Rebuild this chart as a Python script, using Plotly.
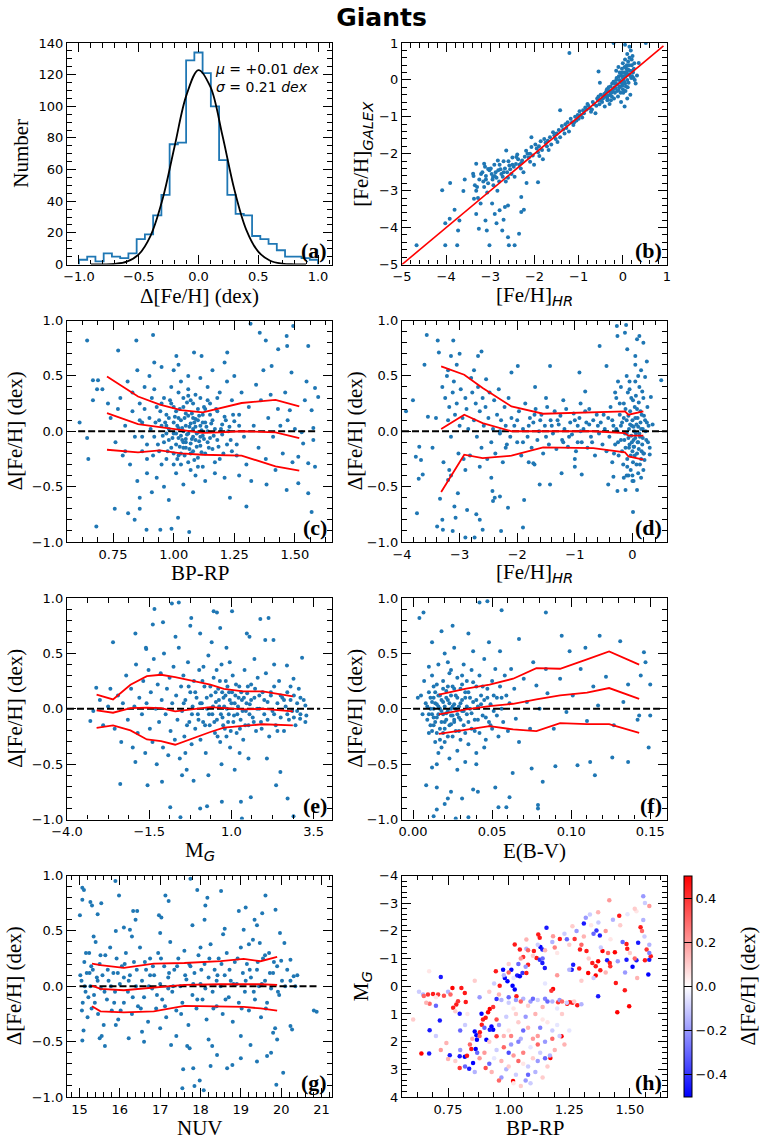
import numpy as np
import plotly.graph_objects as go
from plotly.subplots import make_subplots

# ── (a) histogram of Δ[Fe/H] ───────────────────────────────
hist_counts = [3, 5, 2, 7, 5, 4, 7, 16, 19, 31, 44, 76, 77, 129, 134,
               121, 100, 66, 44, 32, 31, 18, 16, 13, 9, 5, 5, 4, 3]
gauss_x = [-0.9, -0.8, -0.7, -0.6, -0.5, -0.4, -0.3, -0.2, -0.1, 0.0,
           0.1, 0.2, 0.3, 0.4, 0.5, 0.6, 0.7, 0.8, 0.9]
gauss_y = [0.0, 0.1, 0.4, 1.8, 6.4, 18.3, 41.4, 74.6, 107.2, 122.9,
           112.2, 81.7, 47.4, 21.9, 8.1, 2.4, 0.6, 0.1, 0.0]
fit_mu = 0.01
fit_sigma = 0.21

# ── (b) [Fe/H]_HR vs [Fe/H]_GALEX ──────────────────────────
one_to_one = [-5.0, 0.92]
b_pts = [
    (-4.67, -4.48), (-4.09, -2.99), (-3.91, -2.79), (-4.02, -4.48), (-3.75, -4.48), (-3.61, -3.01),
    (-3.58, -2.70), (-3.81, -3.52), (-3.70, -3.81), (-3.73, -4.08), (-4.02, -3.88), (-3.92, -3.76),
    (-3.39, -2.54), (-3.37, -3.22), (-3.32, -3.63), (-3.26, -4.03), (-3.11, -3.81), (-3.08, -4.08),
    (-3.02, -4.48), (-2.96, -3.35), (-2.90, -3.63), (-2.86, -3.88), (-2.79, -3.53), (-2.73, -4.08),
    (-2.70, -3.79), (-2.67, -3.44), (-2.60, -3.40), (-2.58, -4.48), (-2.45, -4.48), (-2.60, -4.26),
    (-2.35, -4.17), (-2.30, -3.58), (-2.24, -3.52), (-2.30, -3.17), (-1.92, -2.77), (-3.32, -2.27),
    (-3.14, -2.27), (-3.05, -2.41), (-2.94, -2.63), (-2.83, -2.18), (-2.64, -1.91), (-2.41, -2.09),
    (-2.18, -2.79), (-2.07, -1.55), (-1.42, -0.82), (-1.21, 0.73), (-0.55, 0.23), (-0.52, -0.08),
    (-0.21, 1.0), (0.04, -0.72), (0.32, 0.12), (0.36, 0.46), (0.52, 1.0),
    (-3.38, -2.6), (-3.35, -2.85), (-3.32, -3.0), (-3.28, -3.2), (-3.25, -2.7), (-3.22, -3.35),
    (-3.21, -2.55), (-3.18, -2.5), (-3.16, -2.75), (-3.14, -2.9), (-3.12, -2.35), (-3.10, -2.6),
    (-3.07, -3.05), (-3.05, -2.8), (-3.02, -2.45), (-2.99, -2.4), (-2.97, -2.55), (-2.95, -2.7),
    (-2.93, -2.85), (-2.91, -2.3), (-2.88, -2.5), (-2.86, -2.65), (-2.84, -3.0), (-2.82, -2.45),
    (-2.79, -2.3), (-2.77, -2.42), (-2.75, -2.55), (-2.72, -2.62), (-2.70, -2.2), (-2.67, -2.4),
    (-2.65, -2.75), (-2.62, -2.5), (-2.59, -2.2), (-2.57, -2.32), (-2.55, -2.42), (-2.52, -2.55),
    (-2.50, -2.1), (-2.47, -2.35), (-2.45, -2.62), (-2.42, -2.28), (-2.39, -2.02), (-2.37, -2.15),
    (-2.34, -2.3), (-2.31, -2.4), (-2.28, -2.18), (-2.25, -2.5), (-2.22, -2.08), (-2.19, -1.92),
    (-2.16, -2.0), (-2.13, -2.1), (-2.10, -2.22), (-2.07, -1.82), (-2.04, -2.05), (-2.01, -2.3),
    (-1.98, -1.75), (-1.95, -1.86), (-1.92, -1.96), (-1.89, -2.06), (-1.86, -1.66), (-1.83, -1.9),
    (-1.81, -2.15), (-1.78, -1.6), (-1.75, -1.7), (-1.72, -1.8), (-1.68, -1.9), (-1.65, -1.55),
    (-1.62, -1.75), (-1.58, -1.42), (-1.55, -1.5), (-1.52, -1.6), (-1.48, -1.68), (-1.45, -1.36),
    (-1.42, -1.55), (-1.38, -1.25), (-1.35, -1.34), (-1.32, -1.45), (-1.28, -1.3), (-1.25, -1.15),
    (-1.22, -1.4), (-1.18, -1.05), (-1.15, -1.15), (-1.12, -1.22), (-1.08, -1.0), (-1.05, -1.1),
    (-1.02, -0.95), (-0.98, -0.85), (-0.95, -0.95), (-0.92, -1.02), (-0.88, -0.9), (-0.85, -0.75),
    (-0.82, -0.8), (-0.78, -0.7), (-0.75, -0.76), (-0.72, -0.86), (-0.68, -0.6), (-0.65, -0.66),
    (-0.62, -0.9), (-0.58, -0.5), (-0.56, -0.56), (-0.53, -0.66), (-0.50, -0.4), (-0.47, -0.6),
    (-0.44, -0.45), (-0.41, -0.72), (-0.39, -0.35), (-0.37, -0.3), (-0.35, -0.5), (-0.32, -0.2),
    (-0.29, -0.4), (-0.27, -0.55), (-0.24, -0.1), (-0.22, -0.25), (-0.19, -0.2), (-0.17, -0.1),
    (-0.15, 0.0), (-0.13, -0.3), (-0.11, -0.45), (-0.09, 0.1), (-0.07, 0.2), (-0.05, -0.05),
    (-0.04, -0.6), (-0.02, 0.3), (-0.01, -0.15), (0.01, 0.0), (0.02, 0.1), (0.03, 0.2),
    (0.05, -0.1), (0.06, -0.3), (0.08, 0.3), (0.09, 0.4), (0.11, -0.2), (0.12, 0.5),
    (0.14, 0.15), (0.15, 0.6), (0.17, -0.4), (0.18, 0.8), (0.19, 0.05), (0.21, 0.1),
    (0.23, 0.2), (0.25, 0.3), (0.27, 0.0), (0.29, -0.1), (-0.10, 0.35), (0.00, 0.45),
    (0.05, 0.55), (0.10, 0.7), (-0.15, 0.25), (0.20, 0.4), (-0.05, -0.35), (0.10, -0.5),
    (0.00, -0.25), (-0.20, -0.5), (0.15, 0.9), (0.05, 0.95), (0.22, 0.65), (-0.30, -0.65),
    (0.08, 0.15), (-0.08, -0.2),
]
b_core_pts = [
    (-0.45, -0.5), (-0.42, -0.38), (-0.38, -0.45), (-0.36, -0.25), (-0.33, -0.42), (-0.31, -0.3),
    (-0.28, -0.18), (-0.26, -0.35), (-0.23, -0.3), (-0.21, -0.05), (-0.18, -0.35), (-0.16, -0.22),
    (-0.14, 0.05), (-0.12, -0.12), (-0.10, -0.28), (-0.08, 0.0), (-0.06, -0.18), (-0.04, 0.12),
    (-0.03, -0.08), (-0.01, 0.2), (0.0, 0.05), (0.01, -0.35), (0.03, -0.05), (0.04, 0.35),
    (0.06, 0.1), (0.07, -0.18), (0.09, 0.22), (0.10, 0.0), (0.12, 0.28), (0.13, -0.08),
    (0.14, 0.4), (0.16, 0.25), (0.18, 0.1), (0.20, 0.55), (0.22, 0.25), (0.24, 0.05),
    (0.26, 0.45), (-0.25, -0.45), (-0.35, -0.55), (-0.5, -0.55), (-0.55, -0.45), (-0.6, -0.7),
    (-0.7, -0.8), (-0.8, -0.65), (-0.9, -0.82), (-1.0, -1.05), (-1.1, -1.15), (-1.3, -1.2),
    (-1.5, -1.45), (-1.7, -1.65), (-1.9, -1.8), (-2.1, -2.0), (-2.3, -2.25), (-2.5, -2.3),
    (-2.7, -2.5), (-2.9, -2.6), (-3.1, -2.7), (-3.3, -2.9), (-2.6, -2.65), (-2.8, -2.75),
]

# ── (c) BP-RP vs Δ[Fe/H] ───────────────────────────────────
c_pts = [
    (0.643, 0.82), (0.612, 0.08), (0.643, -0.06), (0.648, -0.25), (0.681, -0.86), (0.667, 0.46),
    (0.688, 0.46), (0.684, 0.38), (0.667, 0.28), (0.706, 0.38), (0.729, 0.25), (0.771, 0.73),
    (0.757, -0.70), (0.812, -0.74), (0.839, -0.80), (0.846, 0.82), (0.860, -0.70), (0.888, -0.89),
    (0.915, 0.87), (0.945, -0.89), (0.991, -0.88), (1.018, -0.78), (1.064, -0.91), (1.011, 0.68),
    (1.084, 0.71), (1.115, 0.68), (1.221, 0.71), (1.232, -0.60), (1.300, -0.68), (1.317, 0.97),
    (1.355, 0.89), (1.380, 0.82), (1.431, 0.74), (1.466, 0.86), (1.493, 0.95), (1.468, 0.77),
    (1.486, 0.53), (1.404, 0.59), (1.383, -0.48), (1.466, -0.53), (1.514, -0.47), (1.555, -0.56),
    (1.569, -0.73), (1.583, 0.39), (1.569, 0.19), (1.541, 0.28), (1.576, -0.08), (1.534, -0.11),
    (1.583, -0.32), (1.555, -0.29), (1.548, 0.45), (1.555, 0.77), (1.528, -0.01), (1.514, -0.23),
    (1.479, 0.19), (1.576, 0.03), (1.596, 0.31),
    (0.90, 0.12), (0.92, -0.05), (0.93, 0.22), (0.94, -0.18), (0.95, 0.05), (0.96, 0.30),
    (0.96, -0.10), (0.97, 0.15), (0.97, -0.25), (0.98, 0.02), (0.98, -0.08), (0.99, 0.25),
    (0.99, -0.15), (1.00, 0.08), (1.00, -0.02), (1.00, -0.30), (1.01, 0.18), (1.01, -0.12),
    (1.02, 0.03), (1.02, -0.06), (1.02, 0.35), (1.03, -0.20), (1.03, 0.10), (1.03, -0.04),
    (1.04, 0.00), (1.04, -0.10), (1.04, 0.22), (1.05, -0.15), (1.05, 0.05), (1.05, -0.07),
    (1.06, 0.14), (1.06, -0.02), (1.06, -0.28), (1.07, 0.07), (1.07, -0.11), (1.07, 0.28),
    (1.08, -0.05), (1.08, 0.02), (1.08, -0.18), (1.09, 0.11), (1.09, -0.08), (1.10, 0.20),
    (1.10, -0.01), (1.10, -0.24), (1.11, 0.05), (1.11, -0.13), (1.12, 0.15), (1.12, -0.04),
    (1.13, -0.20), (1.13, 0.08), (1.14, 0.00), (1.14, -0.10), (1.15, 0.25), (1.15, -0.06),
    (1.16, 0.10), (1.16, -0.16), (1.17, 0.02), (1.18, -0.08), (1.18, 0.18), (1.19, -0.25),
    (1.20, 0.06), (1.20, -0.03), (1.21, 0.13), (1.22, -0.12), (1.23, 0.04), (1.24, -0.18),
    (1.25, 0.09), (0.89, -0.12), (0.91, 0.30), (0.95, -0.30), (0.99, 0.40), (1.03, 0.45),
    (1.06, 0.38), (1.09, 0.33), (1.12, -0.32), (1.01, -0.38), (0.98, 0.12), (1.05, 0.16),
    (1.08, 0.25), (1.11, 0.30), (1.02, -0.22), (1.07, -0.35), (0.94, 0.10), (0.97, -0.02),
    (1.13, 0.20), (1.17, -0.28), (1.00, 0.22), (1.04, 0.30), (1.10, 0.10), (1.15, 0.15),
    (0.74, 0.12), (0.76, -0.10), (0.78, 0.30), (0.79, -0.22), (0.80, 0.05), (0.81, 0.45),
    (0.82, -0.30), (0.83, 0.18), (0.84, -0.05), (0.85, 0.55), (0.85, -0.45), (0.86, 0.25),
    (0.87, -0.18), (0.87, 0.08), (0.88, 0.40), (0.89, -0.38), (0.90, 0.50), (0.91, -0.55),
    (0.92, 0.38), (0.93, -0.42), (0.95, 0.58), (0.96, -0.50), (0.98, -0.62), (1.00, 0.55),
    (1.02, 0.60), (1.04, -0.48), (1.06, 0.50), (1.08, -0.55), (1.09, -0.40), (1.11, 0.48),
    (1.13, -0.45), (1.14, 0.40), (1.16, 0.55), (1.17, -0.38), (1.19, 0.35), (1.21, -0.42),
    (1.22, 0.45), (1.24, 0.28), (1.26, -0.22), (1.27, 0.15), (1.28, 0.35), (1.29, -0.05),
    (1.30, -0.30), (1.31, 0.22), (1.33, 0.05), (1.34, 0.42), (1.35, -0.15), (1.36, 0.28),
    (1.38, -0.25), (1.39, 0.12), (1.40, 0.33), (1.41, -0.05), (1.42, -0.35), (1.43, 0.20),
    (1.44, 0.05), (1.45, -0.20), (1.46, 0.35), (1.47, 0.10), (1.49, -0.28), (1.50, 0.02),
    (1.27, -0.40), (1.32, -0.45), (1.37, 0.55), (1.25, 0.50), (0.80, -0.18), (0.77, 0.20),
    (0.83, 0.35), (0.86, -0.60), (0.92, 0.62), (1.21, 0.62),
]
c_core_pts = [
    (0.905, 0.02), (0.915, -0.22), (0.925, 0.08), (0.935, -0.12), (0.945, 0.18), (0.955, -0.04),
    (0.965, 0.08), (0.975, -0.18), (0.985, 0.28), (0.995, -0.06), (1.005, 0.13), (1.015, -0.25),
    (1.015, 0.05), (1.025, -0.14), (1.025, 0.20), (1.035, -0.08), (1.035, 0.03), (1.045, 0.12),
    (1.045, -0.22), (1.055, -0.03), (1.055, 0.26), (1.065, -0.16), (1.065, 0.04), (1.075, -0.07),
    (1.075, 0.16), (1.085, -0.26), (1.085, 0.08), (1.095, -0.02), (1.095, -0.14), (1.105, 0.14),
    (1.105, -0.09), (1.115, 0.01), (1.115, -0.19), (1.125, 0.22), (1.125, -0.07), (1.135, 0.04),
    (1.145, -0.15), (1.155, 0.07), (1.165, -0.04), (1.175, 0.20), (1.185, -0.14), (1.195, 0.02),
    (1.205, -0.20), (1.215, 0.10), (1.225, 0.00), (1.235, -0.08), (1.245, 0.15), (1.26, -0.12),
    (1.27, 0.05), (0.88, 0.20), (0.87, -0.05), (0.86, 0.10), (0.89, -0.25), (1.03, -0.30),
    (1.06, 0.32), (1.10, -0.32), (1.00, -0.20), (0.95, 0.25), (1.14, 0.28), (1.18, 0.30),
    (1.02, 0.12), (1.08, 0.12), (1.04, -0.15), (1.07, -0.20), (1.12, 0.08), (0.97, 0.05),
    (1.01, -0.02), (1.09, 0.04), (1.05, -0.10), (1.11, -0.05),
]
c_bins = [0.725, 0.853, 0.943, 1.03, 1.12, 1.19, 1.28, 1.42, 1.518]
c_hi = [0.495, 0.314, 0.24, 0.19, 0.17, 0.21, 0.255, 0.284, 0.224]
c_mid = [0.164, 0.065, 0.038, 0.01, -0.015, -0.01, 0.0, -0.01, -0.062]
c_lo = [-0.167, -0.19, -0.173, -0.2, -0.212, -0.218, -0.22, -0.317, -0.356]

# ── (d) [Fe/H]_HR vs Δ[Fe/H] ───────────────────────────────
d_pts = [
    (-3.93, 0.18), (-3.81, 0.28), (-3.76, -0.23), (-3.70, -0.14), (-3.67, -0.26), (-3.71, -0.43),
    (-3.64, -0.39), (-3.74, -0.74), (-3.57, 0.87), (-3.61, 0.60), (-3.55, 0.13), (-3.47, -0.15),
    (-3.41, 0.12), (-3.38, 0.82), (-3.36, 0.71), (-3.34, -0.61), (-3.30, -0.80), (-3.29, -0.89),
    (-3.39, -0.86), (-3.20, -0.44), (-3.18, -0.35), (-3.11, 0.82), (-3.15, 0.68), (-3.09, -0.68),
    (-3.07, -0.78), (-3.03, -0.56), (-3.00, 0.70), (-3.12, -0.90), (-2.90, -0.96), (-2.87, -0.71),
    (-2.74, -0.96), (-2.71, -0.75), (-2.65, -0.80), (-2.62, 0.72), (-2.68, 0.68), (-2.60, -0.89),
    (-2.54, 0.47), (-2.43, -0.54), (-2.42, -0.63), (-2.39, -0.60), (-2.30, -0.59), (-2.28, -0.90),
    (-2.16, -0.69), (-2.10, 0.53), (-1.99, 0.59), (-1.88, -0.62), (-1.90, -0.87), (-1.69, 0.40),
    (-1.43, 0.59), (-1.43, -0.48), (-0.92, 0.53), (-0.82, 0.36), (-0.57, 0.77), (-0.45, 0.59),
    (-0.27, 0.95), (-0.11, 0.96), (-0.13, 0.89), (-0.26, 0.86), (-0.09, 0.74), (0.05, 0.68),
    (0.08, 0.83), (0.12, 0.86), (0.19, 0.80), (0.25, 0.63), (0.22, 0.49), (0.50, 0.46),
    (0.32, 0.31), (0.35, 0.06), (0.30, -0.21), (-0.26, -0.54), (-0.12, -0.53), (0.08, -0.53),
    (0.01, -0.73), (0.02, -0.45), (-0.07, -0.40), (0.19, -0.35), (0.19, -0.20), (0.02, -0.14),
    (-0.42, -0.48), (-0.33, -0.41), (-0.88, -0.39), (-1.00, -0.32), (-1.61, -0.48), (-1.72, -0.29),
    (-1.23, -0.38),
    (-3.30, 0.40), (-3.25, 0.30), (-3.22, 0.50), (-3.20, 0.10), (-3.18, 0.22), (-3.15, -0.05),
    (-3.12, 0.35), (-3.10, 0.45), (-3.08, 0.15), (-3.05, 0.25), (-3.02, -0.20), (-3.00, 0.05),
    (-2.98, 0.38), (-2.95, 0.12), (-2.93, -0.25), (-2.90, 0.30), (-2.88, 0.20), (-2.85, 0.02),
    (-2.82, -0.22), (-2.80, 0.48), (-2.78, 0.35), (-2.75, 0.10), (-2.72, 0.25), (-2.70, -0.05),
    (-2.68, 0.40), (-2.65, 0.18), (-2.62, -0.15), (-2.60, 0.30), (-2.58, 0.05), (-2.55, 0.22),
    (-2.52, -0.25), (-2.50, 0.12), (-2.48, 0.35), (-2.45, -0.10), (-2.42, 0.02), (-2.40, 0.28),
    (-2.38, -0.20), (-2.35, 0.15), (-2.32, 0.38), (-2.30, -0.02), (-2.28, 0.10), (-2.25, -0.28),
    (-2.22, 0.22), (-2.20, 0.05), (-2.18, -0.12), (-2.15, 0.30), (-2.12, -0.05), (-2.10, 0.12),
    (-3.28, -0.28), (-3.15, -0.40), (-2.90, -0.35), (-2.65, -0.32), (-2.45, -0.42), (-2.75, 0.55),
    (-3.05, 0.60), (-3.20, 0.55),
    (-2.05, 0.05), (-2.00, -0.10), (-1.97, 0.18), (-1.93, -0.22), (-1.90, 0.02), (-1.86, 0.25),
    (-1.82, -0.05), (-1.78, 0.12), (-1.75, -0.15), (-1.72, 0.08), (-1.68, 0.20), (-1.65, -0.08),
    (-1.62, 0.00), (-1.58, 0.15), (-1.55, -0.20), (-1.52, 0.05), (-1.48, 0.22), (-1.45, -0.12),
    (-1.42, 0.10), (-1.38, -0.02), (-1.35, 0.18), (-1.32, -0.16), (-1.28, 0.06), (-1.25, 0.14),
    (-1.22, -0.08), (-1.18, 0.02), (-1.15, 0.20), (-1.12, -0.14), (-1.08, 0.08), (-1.05, -0.03),
    (-1.02, 0.16), (-0.98, -0.18), (-0.95, 0.05), (-0.92, 0.12), (-0.88, -0.10), (-0.85, 0.02),
    (-0.82, 0.18), (-0.78, -0.15), (-0.75, 0.06), (-0.72, -0.05), (-0.68, 0.10), (-0.65, -0.22),
    (-0.62, 0.15), (-0.58, -0.02), (-0.55, 0.08), (-0.52, -0.12), (-1.80, -0.28), (-1.50, 0.30),
    (-1.20, 0.28), (-0.90, 0.25), (-1.70, -0.30), (-1.00, -0.25),
    (-0.48, 0.02), (-0.45, -0.18), (-0.42, 0.12), (-0.40, -0.05), (-0.38, 0.22), (-0.35, -0.28),
    (-0.33, 0.05), (-0.30, -0.12), (-0.28, 0.30), (-0.26, 0.00), (-0.24, -0.22), (-0.22, 0.15),
    (-0.20, -0.08), (-0.18, 0.08), (-0.16, -0.30), (-0.15, 0.25), (-0.13, -0.02), (-0.12, -0.15),
    (-0.10, 0.10), (-0.09, -0.25), (-0.08, 0.35), (-0.07, -0.06), (-0.06, 0.02), (-0.05, -0.12),
    (-0.04, 0.18), (-0.03, -0.35), (-0.02, -0.04), (-0.01, 0.05), (0.00, -0.18), (0.01, 0.28),
    (0.02, -0.08), (0.03, 0.00), (0.04, -0.22), (0.05, 0.12), (0.06, -0.02), (0.07, -0.30),
    (0.08, 0.20), (0.09, -0.10), (0.10, 0.04), (0.11, -0.16), (0.12, 0.40), (0.13, -0.05),
    (0.14, 0.08), (0.15, -0.25), (0.16, 0.15), (0.17, -0.12), (0.18, 0.02), (0.19, 0.30),
    (0.20, -0.20), (0.22, 0.10), (0.24, -0.08), (0.26, 0.22), (0.28, 0.05), (0.30, -0.15),
    (-0.25, 0.45), (-0.10, 0.50), (0.05, 0.45), (0.15, 0.55), (-0.05, 0.38), (0.00, -0.40),
    (-0.15, -0.42), (0.10, -0.38),
]
d_core_pts = [
    (-0.35, 0.1), (-0.32, -0.2), (-0.28, 0.02), (-0.25, -0.1), (-0.22, 0.25), (-0.2, 0.05),
    (-0.18, -0.18), (-0.15, 0.12), (-0.14, -0.08), (-0.12, 0.2), (-0.1, -0.02), (-0.09, -0.32),
    (-0.07, 0.14), (-0.06, -0.15), (-0.04, 0.06), (-0.03, -0.22), (-0.02, 0.3), (-0.01, -0.1),
    (0.0, 0.1), (0.01, -0.28), (0.02, 0.04), (0.03, -0.14), (0.04, 0.22), (0.05, -0.06),
    (0.06, 0.32), (0.07, 0.06), (0.08, -0.2), (0.09, 0.12), (0.1, -0.1), (0.11, 0.26),
    (0.12, -0.02), (0.13, -0.3), (0.14, 0.18), (0.15, 0.02), (0.16, -0.18), (0.17, 0.36),
    (0.18, -0.06), (0.2, 0.14), (0.21, -0.26), (0.23, 0.0), (0.25, 0.08), (0.27, -0.1),
    (-0.05, 0.45), (0.1, 0.5), (-0.2, 0.4), (0.0, -0.45), (-0.1, -0.4), (0.15, -0.42),
    (0.05, 0.6), (-0.3, 0.35), (-2.3, 0.0), (-2.2, -0.15), (-2.0, 0.1), (-1.9, -0.1),
    (-1.8, 0.05), (-1.6, 0.1), (-1.5, -0.05), (-1.4, 0.05), (-1.3, 0.1), (-1.1, -0.05),
    (-1.0, 0.1), (-0.9, 0.0), (-0.8, 0.08), (-0.7, -0.1), (-0.6, 0.05), (-0.5, 0.15),
    (-1.7, 0.15), (-1.2, -0.1), (-0.95, -0.1), (-0.75, 0.2),
]
d_bins = [-3.32, -2.92, -2.60, -2.10, -1.55, -0.68, -0.13, -0.07, 0.19]
d_hi = [0.585, 0.51, 0.39, 0.224, 0.158, 0.17, 0.18, 0.149, 0.179]
d_mid = [0.02, 0.149, 0.074, 0.0, 0.0, 0.0, -0.017, -0.04, -0.04]
d_lo = [-0.549, -0.212, -0.242, -0.221, -0.146, -0.152, -0.19, -0.227, -0.257]

# ── (e) M_G vs Δ[Fe/H] ─────────────────────────────────────
e_pts = [
    (-3.29, -0.11), (-3.11, 0.19), (-2.68, 0.18), (-2.60, 0.60), (-2.38, -0.68), (-1.92, 0.68),
    (-1.92, -0.48), (-1.59, 0.54), (-1.55, -0.69), (-1.39, 0.76), (-1.34, 0.90), (-1.08, 0.78),
    (-1.11, -0.66), (-0.86, -0.89), (-0.81, 0.95), (-0.60, 0.96), (-0.55, -0.98), (-0.50, -0.60),
    (-0.25, 0.75), (-0.22, 0.82), (0.05, 0.68), (0.05, -0.90), (0.26, -0.88), (0.46, 0.88),
    (0.56, 0.87), (0.66, 0.73), (0.71, -0.84), (1.02, 0.88), (1.29, -0.84), (1.32, -0.99),
    (1.47, 0.68), (1.55, 0.65), (1.59, -0.80), (1.88, 0.81), (2.03, 0.62), (2.13, 0.82),
    (2.28, 0.62), (2.36, -0.69), (2.49, -0.57), (2.69, 0.39), (2.71, -0.81), (2.89, -0.97),
    (3.15, 0.46), (3.09, -0.09), (3.25, 0.03), (3.28, -0.06), (2.89, 0.27), (1.52, -0.45),
    (2.08, -0.45),
    (-3.20, -0.02), (-3.00, 0.08), (-2.90, -0.15), (-2.75, 0.02), (-2.55, -0.18), (-2.45, 0.12),
    (-2.35, -0.30), (-2.30, 0.05), (-2.20, 0.30), (-2.15, -0.10), (-2.05, 0.18), (-2.00, -0.35),
    (-1.95, 0.02), (-1.90, 0.40), (-1.85, -0.22), (-1.80, 0.10), (-1.72, -0.05), (-1.68, 0.25),
    (-1.62, -0.40), (-1.58, 0.05), (-1.52, 0.35), (-1.48, -0.18), (-1.45, 0.15), (-1.40, -0.30),
    (-1.36, 0.45), (-1.30, 0.00), (-1.27, -0.50), (-1.24, 0.22), (-1.20, -0.12), (-1.15, 0.32),
    (-1.12, 0.08), (-1.08, -0.35), (-1.05, 0.50), (-1.00, -0.05), (-0.96, 0.18), (-0.92, -0.42),
    (-0.88, 0.28), (-0.85, -0.20), (-0.80, 0.05), (-0.76, 0.38), (-0.72, -0.28), (-0.68, 0.12),
    (-0.64, -0.10), (-0.60, 0.55), (-0.57, -0.45), (-0.53, 0.20), (-0.50, -0.02), (-0.46, 0.30),
    (-0.43, -0.25), (-0.40, 0.08), (-0.36, -0.55), (-0.32, 0.42), (-0.28, -0.12), (-0.25, 0.15),
    (-0.21, -0.32), (-0.18, 0.02), (-0.14, 0.25), (-0.10, -0.18), (-0.06, 0.10), (-0.02, -0.05),
    (0.02, 0.35), (0.06, -0.28), (0.10, 0.05), (0.14, -0.12), (0.18, 0.20), (0.22, -0.40),
    (0.26, 0.00), (0.30, 0.48), (0.34, -0.15), (0.38, 0.12), (0.42, -0.05), (0.46, 0.28),
    (0.50, -0.22), (0.53, 0.06), (0.56, -0.10), (0.60, 0.18), (0.63, 0.02), (0.66, -0.30),
    (0.70, 0.40), (0.73, -0.08), (0.76, 0.10), (0.80, -0.18), (0.83, 0.25), (0.86, 0.00),
    (0.90, -0.12), (0.93, 0.15), (0.96, -0.35), (1.00, 0.05), (1.04, 0.30), (1.08, -0.06),
    (1.12, 0.12), (1.16, -0.22), (1.20, 0.02), (1.24, 0.20), (1.28, -0.10), (1.32, 0.08),
    (1.36, -0.28), (1.40, 0.35), (1.44, -0.02), (1.48, 0.14), (1.52, -0.15), (1.56, 0.04),
    (1.60, 0.22), (1.65, -0.08), (1.70, 0.10), (1.75, -0.20), (1.80, 0.28), (1.85, 0.00),
    (1.90, -0.12), (1.95, 0.15), (2.00, -0.05), (2.05, 0.32), (2.10, 0.06), (2.15, -0.25),
    (2.20, 0.12), (2.25, -0.02), (2.30, 0.20), (2.35, -0.15), (2.40, 0.05), (2.45, 0.25),
    (2.50, -0.08), (2.55, 0.10), (2.60, -0.20), (2.65, 0.02), (2.70, 0.15), (2.75, -0.10),
    (2.80, 0.08), (2.85, -0.02), (2.90, 0.12), (2.95, -0.15), (3.00, 0.05), (3.05, 0.18),
    (3.10, -0.05), (3.20, 0.08), (3.25, -0.12), (0.40, 0.60), (0.85, 0.55), (-0.70, 0.65),
    (1.10, -0.55), (0.30, -0.60), (-0.15, -0.65), (0.70, -0.50), (1.70, 0.45), (2.30, 0.40),
    (-1.60, 0.55), (0.55, 0.35), (0.95, 0.42), (1.25, -0.40), (0.15, 0.38), (-0.40, -0.40),
]
e_core_pts = [
    (-0.45, 0.05), (-0.35, -0.15), (-0.3, 0.2), (-0.2, -0.05), (-0.1, 0.15), (0.0, -0.1),
    (0.05, 0.05), (0.12, 0.25), (0.2, -0.15), (0.25, 0.1), (0.32, -0.05), (0.36, 0.2),
    (0.44, 0.02), (0.48, -0.12), (0.52, 0.15), (0.58, -0.25), (0.62, 0.08), (0.65, 0.25),
    (0.68, -0.05), (0.72, 0.15), (0.75, -0.15), (0.78, 0.02), (0.82, 0.12), (0.85, -0.25),
    (0.88, 0.2), (0.92, -0.05), (0.95, 0.08), (0.98, -0.2), (1.02, 0.15), (1.06, -0.12),
    (1.1, 0.05), (1.14, 0.22), (1.18, -0.05), (1.22, 0.1), (1.26, -0.18), (1.3, 0.15),
    (1.34, -0.02), (1.38, 0.1), (1.42, -0.15), (1.46, 0.05), (1.5, 0.2), (1.55, -0.05),
    (1.6, 0.08), (1.68, -0.12), (1.72, 0.18), (1.78, 0.0), (1.85, 0.12), (1.92, -0.18),
    (2.0, 0.08), (2.1, -0.1), (2.2, 0.15), (2.3, -0.05), (2.4, -0.2), (2.5, 0.12),
    (2.6, 0.08), (2.7, -0.05), (2.8, 0.2), (2.9, -0.08), (3.0, -0.02), (3.1, 0.1),
]
e_bins = [-3.1, -2.6, -2.07, -1.57, -1.14, -0.71, 0.36, 0.77, 1.36, 1.95, 2.87]
e_hi = [0.127, 0.084, 0.217, 0.295, 0.307, 0.286, 0.217, 0.18, 0.157, 0.157, 0.111]
e_mid = [-0.015, -0.036, 0.006, 0.01, 0.006, -0.024, 0.015, 0.006, -0.006, 0.0, -0.024]
e_lo = [-0.172, -0.151, -0.196, -0.277, -0.292, -0.325, -0.21, -0.17, -0.155, -0.14, -0.151]

# ── (f) E(B-V) vs Δ[Fe/H] ──────────────────────────────────
f_pts = [
    (0.004, 0.82), (0.0066, 0.87), (0.0083, -0.69), (0.012, -0.53), (0.015, -0.71), (0.015, -0.91),
    (0.013, -0.97), (0.020, -0.86), (0.022, -0.81), (0.024, -0.75), (0.027, -0.99), (0.031, -0.81),
    (0.035, -0.98), (0.038, -0.73), (0.041, -0.75), (0.042, 0.96), (0.047, 0.97), (0.054, -0.89),
    (0.056, 0.89), (0.052, -0.71), (0.059, -0.89), (0.061, -0.80), (0.063, -0.58), (0.067, 0.63),
    (0.075, -0.54), (0.079, -0.87), (0.079, -0.90), (0.082, -0.66), (0.084, 0.87), (0.090, -0.52),
    (0.094, 0.66), (0.099, 0.52), (0.104, -0.51), (0.109, 0.55), (0.112, -0.48), (0.115, -0.60),
    (0.118, 0.66), (0.126, -0.44), (0.131, 0.61), (0.136, -0.48), (0.136, 0.22), (0.142, -0.10),
    (0.143, -0.06), (0.146, 0.51), (0.147, 0.42), (0.149, -0.35), (0.150, -0.06), (0.150, 0.22),
    (0.144, 0.30), (0.133, 0.06), (0.127, -0.15), (0.122, 0.29), (0.117, 0.03), (0.114, 0.20),
    (0.110, -0.11), (0.106, 0.36), (0.101, 0.12), (0.097, -0.03), (0.093, 0.27), (0.089, -0.18),
    (0.084, 0.36), (0.085, 0.14), (0.080, 0.00), (0.078, 0.21), (0.076, 0.42), (0.074, -0.18),
    (0.072, 0.06), (0.070, 0.27), (0.067, -0.30), (0.065, -0.09), (0.064, 0.18), (0.062, 0.36),
    (0.008, 0.05), (0.009, -0.10), (0.010, 0.15), (0.010, -0.22), (0.011, 0.00), (0.012, 0.30),
    (0.012, -0.05), (0.013, 0.10), (0.013, -0.15), (0.014, -0.30), (0.014, 0.05), (0.015, 0.22),
    (0.015, -0.08), (0.016, 0.40), (0.016, 0.02), (0.017, -0.18), (0.017, 0.12), (0.018, -0.02),
    (0.018, -0.35), (0.019, 0.25), (0.019, 0.06), (0.020, -0.12), (0.020, 0.50), (0.021, -0.04),
    (0.021, 0.16), (0.022, -0.25), (0.022, 0.08), (0.023, -0.45), (0.023, 0.32), (0.024, 0.00),
    (0.024, -0.14), (0.025, 0.20), (0.025, -0.06), (0.026, 0.55), (0.026, 0.04), (0.027, -0.20),
    (0.027, 0.12), (0.028, -0.38), (0.028, 0.28), (0.029, -0.08), (0.029, 0.02), (0.030, 0.18),
    (0.030, -0.28), (0.031, 0.08), (0.031, -0.02), (0.032, 0.40), (0.032, -0.15), (0.033, 0.10),
    (0.034, -0.05), (0.034, 0.25), (0.035, -0.32), (0.035, 0.15), (0.036, 0.00), (0.037, -0.18),
    (0.037, 0.35), (0.038, 0.06), (0.039, -0.10), (0.040, 0.20), (0.040, -0.40), (0.041, 0.02),
    (0.042, 0.30), (0.042, -0.22), (0.043, 0.12), (0.044, -0.06), (0.045, 0.45), (0.045, 0.08),
    (0.046, -0.28), (0.047, 0.18), (0.048, -0.12), (0.048, 0.60), (0.049, 0.04), (0.050, -0.18),
    (0.050, 0.25), (0.051, -0.02), (0.052, 0.36), (0.053, 0.10), (0.054, -0.25), (0.055, 0.20),
    (0.056, 0.00), (0.057, -0.12), (0.058, 0.30), (0.059, 0.12), (0.060, -0.20), (0.061, 0.05),
    (0.005, 0.12), (0.006, -0.05), (0.007, 0.25), (0.003, 0.10), (0.012, 0.60), (0.018, 0.70),
    (0.025, 0.75), (0.035, 0.68), (0.028, -0.55), (0.040, -0.50), (0.015, -0.50), (0.022, 0.42),
    (0.033, -0.48), (0.045, -0.35), (0.055, 0.52), (0.038, 0.52), (0.010, 0.38), (0.016, -0.40),
    (0.020, -0.30), (0.013, 0.20), (0.026, -0.10), (0.031, 0.30), (0.019, -0.22), (0.024, 0.35),
]
f_core_pts = [
    (0.009, 0.02), (0.010, -0.05), (0.011, 0.1), (0.011, -0.15), (0.012, 0.06), (0.012, -0.2),
    (0.013, 0.0), (0.013, -0.08), (0.014, 0.15), (0.014, -0.12), (0.015, 0.04), (0.015, -0.22),
    (0.016, -0.05), (0.016, 0.12), (0.017, 0.0), (0.017, -0.28), (0.018, 0.08), (0.018, -0.12),
    (0.019, 0.18), (0.019, -0.05), (0.020, 0.02), (0.020, -0.18), (0.021, 0.1), (0.021, -0.1),
    (0.022, -0.02), (0.022, 0.2), (0.023, -0.15), (0.023, 0.05), (0.024, -0.06), (0.024, 0.12),
    (0.025, -0.25), (0.025, 0.02), (0.026, -0.12), (0.026, 0.18), (0.027, 0.0), (0.028, -0.05),
    (0.028, 0.1), (0.029, -0.2), (0.030, 0.05), (0.030, -0.1), (0.031, 0.22), (0.032, -0.02),
    (0.033, -0.22), (0.033, 0.15), (0.034, 0.02), (0.035, -0.12), (0.036, 0.1), (0.037, -0.04),
    (0.038, 0.24), (0.039, -0.2), (0.040, 0.08), (0.041, -0.1), (0.043, 0.04), (0.044, 0.2),
    (0.046, -0.08), (0.047, 0.1), (0.049, -0.15), (0.051, 0.12), (0.053, -0.06), (0.056, 0.1),
]
f_bins = [0.0163, 0.0336, 0.0484, 0.0633, 0.078, 0.093, 0.110, 0.124, 0.143]
f_hi = [0.127, 0.181, 0.217, 0.271, 0.367, 0.361, 0.446, 0.518, 0.398]
f_mid = [-0.051, -0.006, 0.024, 0.045, 0.084, 0.12, 0.145, 0.187, 0.09]
f_lo = [-0.226, -0.19, -0.157, -0.187, -0.202, -0.13, -0.139, -0.139, -0.217]

# ── (g) NUV vs Δ[Fe/H] ─────────────────────────────────────
g_pts = [
    (15.07, 0.89), (15.11, 0.87), (15.07, 0.78), (15.01, 0.64), (15.07, -0.49), (15.27, 0.76),
    (15.31, 0.73), (15.45, 0.65), (15.54, 0.75), (15.50, -0.47), (15.63, -0.54), (15.89, 0.95),
    (15.98, 0.82), (16.10, 0.53), (16.25, 0.51), (16.33, 0.68), (16.43, 0.68), (16.39, 0.60),
    (16.22, -0.47), (16.55, -0.41), (16.97, 0.64), (17.03, 0.62), (17.13, 0.82), (17.21, 0.77),
    (17.27, -0.53), (17.55, -0.92), (17.57, -0.75), (17.67, -0.54), (17.73, -0.56), (17.75, 0.97),
    (17.82, -0.74), (17.85, -0.90), (17.92, 0.87), (17.98, -0.85), (18.08, -0.94), (18.10, 0.60),
    (18.12, 0.73), (18.17, 0.80), (18.25, -0.72), (18.29, -0.54), (18.41, -0.62), (18.51, 0.86),
    (18.56, 0.47), (18.66, -0.74), (18.79, -0.71), (18.95, 0.68), (19.00, -0.65), (19.07, 0.51),
    (19.12, 0.71), (19.24, -0.53), (19.34, 0.60), (19.40, -0.68), (19.47, 0.39), (19.53, 0.66),
    (19.61, 0.82), (19.65, -0.63), (19.75, -0.60), (19.86, 0.69), (19.88, -0.89), (19.90, -0.48),
    (19.97, 0.48), (20.00, 0.23), (20.05, -0.78), (20.08, 0.39), (20.15, 0.15), (20.23, 0.05),
    (20.31, 0.09), (20.40, 0.10), (20.23, -0.36), (20.02, 0.05), (20.81, -0.22), (20.88, -0.23),
    (20.23, 0.24), (20.27, -0.39),
    (15.05, 0.05), (15.08, -0.15), (15.12, 0.22), (15.15, -0.05), (15.18, 0.12), (15.20, -0.28),
    (15.24, 0.30), (15.27, 0.00), (15.30, -0.20), (15.33, 0.15), (15.36, -0.08), (15.40, 0.40),
    (15.43, 0.08), (15.46, -0.25), (15.50, 0.20), (15.53, -0.02), (15.57, 0.10), (15.60, -0.35),
    (15.64, 0.28), (15.68, -0.12), (15.72, 0.05), (15.76, 0.35), (15.80, -0.22), (15.84, 0.12),
    (15.88, -0.05), (15.92, 0.25), (15.96, -0.30), (16.00, 0.02), (16.05, 0.18), (16.10, -0.15),
    (16.15, 0.30), (16.20, -0.05), (16.25, 0.10), (16.30, -0.25), (16.35, 0.22), (16.40, 0.00),
    (16.45, -0.18), (16.50, 0.35), (16.55, 0.05), (16.60, -0.10), (16.65, 0.15), (16.70, -0.32),
    (16.75, 0.25), (16.80, -0.02), (16.85, 0.10), (16.90, -0.20), (16.95, 0.30), (17.00, 0.02),
    (17.05, -0.12), (17.10, 0.18), (17.15, -0.28), (17.20, 0.08), (17.25, 0.40), (17.30, -0.05),
    (17.35, 0.15), (17.40, -0.22), (17.45, 0.25), (17.50, 0.00), (17.55, -0.15), (17.60, 0.32),
    (17.65, 0.06), (17.70, -0.35), (17.75, 0.18), (17.80, -0.08), (17.85, 0.12), (17.90, -0.20),
    (17.95, 0.28), (18.00, 0.02), (18.05, -0.12), (18.10, 0.20), (18.15, -0.30), (18.20, 0.08),
    (18.25, 0.38), (18.30, -0.05), (18.35, 0.15), (18.40, -0.18), (18.45, 0.25), (18.50, 0.00),
    (18.55, -0.25), (18.60, 0.10), (18.65, 0.30), (18.70, -0.10), (18.75, 0.05), (18.80, -0.32),
    (18.85, 0.22), (18.90, 0.02), (18.95, -0.15), (19.00, 0.35), (19.05, 0.12), (19.10, -0.05),
    (19.15, 0.20), (19.20, -0.22), (19.25, 0.08), (19.30, 0.42), (19.35, -0.12), (19.40, 0.15),
    (19.45, 0.00), (19.50, -0.28), (19.55, 0.25), (19.60, 0.05), (19.65, -0.15), (19.70, 0.30),
    (19.75, -0.02), (19.80, 0.12), (19.85, -0.38), (19.90, 0.18), (19.95, -0.08), (15.10, -0.40),
    (15.35, 0.45), (15.55, -0.45), (15.90, 0.50), (16.30, 0.45), (16.60, -0.50), (17.00, 0.48),
    (17.40, -0.45), (17.80, 0.55), (18.20, -0.48), (18.60, 0.52), (19.00, -0.45), (19.40, 0.55),
    (19.80, -0.42), (16.10, 0.08), (17.20, -0.02), (18.40, 0.05), (19.60, 0.28), (15.25, 0.12),
    (16.75, 0.10),
]
g_core_pts = [
    (15.02, 0.1), (15.06, -0.22), (15.13, 0.0), (15.16, 0.3), (15.22, -0.1), (15.29, 0.18),
    (15.38, -0.15), (15.45, 0.05), (15.52, 0.28), (15.62, -0.05), (15.7, 0.15), (15.78, 0.0),
    (15.86, -0.15), (15.95, 0.12), (16.02, -0.22), (16.12, 0.2), (16.22, 0.05), (16.32, -0.1),
    (16.42, 0.15), (16.52, -0.2), (16.62, 0.22), (16.72, 0.0), (16.82, 0.18), (16.92, -0.08),
    (17.02, 0.25), (17.12, -0.18), (17.22, 0.12), (17.32, 0.0), (17.42, 0.18), (17.52, -0.25),
    (17.62, 0.1), (17.72, 0.2), (17.82, 0.02), (17.92, -0.12), (18.02, 0.15), (18.12, -0.02),
    (18.22, 0.25), (18.32, -0.2), (18.42, 0.1), (18.52, 0.2), (18.62, -0.12), (18.72, 0.15),
    (18.82, 0.02), (18.92, 0.25), (19.02, -0.2), (19.12, 0.05), (19.22, 0.15), (19.32, -0.05),
    (19.42, 0.22), (19.52, 0.02), (19.62, -0.2), (19.72, 0.12), (19.82, 0.22), (19.92, -0.05),
    (20.1, 0.0), (20.35, 0.0), (15.9, -0.35), (17.0, -0.38), (18.0, 0.35), (19.2, 0.38),
]
g_bins = [15.31, 15.52, 16.1, 16.84, 17.6, 18.5, 19.07, 19.49, 19.9]
g_hi = [0.205, 0.19, 0.166, 0.205, 0.21, 0.226, 0.247, 0.226, 0.265]
g_mid = [0.006, -0.024, -0.036, -0.015, 0.012, 0.018, 0.021, 0.018, 0.012]
g_lo = [-0.181, -0.226, -0.235, -0.226, -0.178, -0.181, -0.187, -0.2, -0.22]

# x-extent of the dashed Δ=0 reference line in panels c-g
zero_line_x = {
    "c": [0.606, 1.596],
    "d": [-4.0, 0.6],
    "e": [-4.0, 3.7],
    "f": [0.0, 0.158],
    "g": [15.0, 20.93],
}

# ── (h) colour-magnitude diagram coloured by Δ[Fe/H] ───────
h_pts = [
    (0.640, 2.43, 0.5), (0.672, 2.43, -0.45), (0.606, 1.20, 0.1), (0.647, 0.30, -0.15),
    (0.667, 0.30, 0.4), (0.688, 0.28, 0.45), (0.709, 0.30, 0.4), (0.674, 0.63, 0.3),
    (0.672, -0.54, 0.05), (0.720, -0.33, -0.45), (0.716, 1.24, -0.45), (0.674, 1.59, -0.45),
    (0.733, 0.34, 0.35), (0.771, 0.78, 0.45), (0.784, 0.66, 0.45), (0.791, 0.54, 0.4),
    (0.768, 0.06, 0.5), (0.805, 0.06, 0.45), (0.819, 0.24, 0.45), (0.798, 0.99, -0.45),
    (0.823, 0.57, 0.45), (0.743, 2.05, 0.15), (0.757, 2.49, -0.45), (0.750, 2.63, 0.15),
    (0.798, 2.53, -0.45), (0.819, 2.55, -0.5), (0.828, 2.51, 0.45), (0.798, 2.95, 0.4),
    (0.837, 2.98, -0.45), (0.846, 2.27, 0.45), (0.853, 2.77, -0.5), (0.860, 1.63, -0.5),
    (0.867, 1.77, -0.5), (0.869, 1.93, -0.5), (0.864, 2.27, -0.5), (0.881, 1.66, 0.45),
    (0.889, 1.39, 0.45), (0.894, 1.20, 0.45), (0.888, 0.99, -0.5), (0.905, 1.14, 0.45),
    (0.915, 0.94, 0.5), (0.922, 0.82, 0.5), (0.936, 0.75, 0.4), (0.929, 1.45, -0.5),
    (0.936, 1.57, -0.5), (0.922, 1.57, -0.45), (0.908, 1.93, -0.5), (0.950, 1.81, 0.4),
    (0.950, 0.46, -0.4), (0.963, -0.02, 0.45), (0.947, -0.54, 0.45), (0.977, -0.60, -0.5),
    (0.984, -0.30, -0.5), (0.995, -0.18, -0.5), (1.011, -0.60, -0.5), (1.016, -0.02, -0.5),
    (1.025, 0.12, -0.5), (1.032, 0.36, 0.45), (1.035, -0.39, -0.45), (1.046, -0.36, -0.5),
    (1.057, -0.48, -0.4), (1.073, -0.48, 0.45), (1.060, -1.06, 0.4), (1.080, -0.78, 0.45),
    (1.104, -1.27, 0.45), (1.115, -1.02, 0.45), (1.131, -1.42, -0.5), (1.139, -1.33, -0.45),
    (1.128, -0.96, -0.4), (1.139, -0.84, -0.45), (1.149, -0.66, -0.45), (1.156, -2.11, -0.45),
    (1.122, -1.87, 0.45), (1.183, 0.10, 0.5), (1.176, 0.16, 0.4), (1.204, 0.58, 0.4),
    (1.241, 0.63, 0.5), (1.263, 0.60, 0.45), (1.283, 0.69, 0.45), (1.252, 0.58, 0.45),
    (1.218, 1.81, 0.5), (1.172, 2.59, 0.5), (1.018, 3.42, 0.5), (0.905, 2.95, 0.35),
    (1.211, -1.71, 0.45), (1.272, -1.71, 0.4), (1.294, -1.33, 0.45), (1.321, -1.27, 0.45),
    (1.266, -0.78, -0.45), (1.260, -0.60, -0.45), (1.291, -0.64, 0.45), (1.310, -2.27, -0.45),
    (1.362, -2.01, -0.4), (1.376, -1.83, -0.45), (1.328, -0.48, 0.5), (1.345, -0.84, 0.45),
    (1.359, -0.72, 0.45), (1.369, -0.90, 0.5), (1.378, -0.58, 0.45), (1.359, -0.39, 0.5),
    (1.369, 0.36, -0.45), (1.387, -1.27, 0.5), (1.406, -0.94, -0.45), (1.417, -0.84, 0.45),
    (1.419, -0.72, 0.4), (1.438, -1.23, 0.5), (1.456, -2.55, 0.45), (1.442, -0.12, 0.45),
    (1.448, 0.94, 0.5), (1.479, 0.14, 0.45), (1.486, -1.53, 0.45), (1.489, -1.35, 0.45),
    (1.486, -0.96, -0.45), (1.497, 0.72, 0.5), (1.511, -0.70, -0.5), (1.527, -0.94, -0.45),
    (1.534, -1.57, -0.45), (1.544, -2.13, 0.45), (1.562, -0.94, 0.45), (1.569, -1.33, 0.4),
    (1.576, -0.42, -0.5), (1.580, -0.96, -0.45), (1.586, -1.08, 0.45), (1.555, -2.39, -0.15),
    (1.555, -3.25, -0.2), (1.562, -3.01, -0.1), (1.415, -3.11, 0.2), (1.527, -2.71, 0.05),
    (1.025, -1.51, 0.45), (1.046, -1.33, 0.45), (1.073, -1.35, -0.15), (1.073, -1.69, 0.15),
    (1.128, -1.75, 0.45), (1.183, -1.81, 0.2), (1.263, -2.17, 0.1), (1.318, -2.47, -0.2),
    (1.335, -2.59, -0.1), (1.369, -2.67, 0.15),
    (0.92, 2.0, 0.1), (0.95, 2.3, -0.1), (0.97, 2.7, 0.15), (0.99, 3.0, -0.15), (1.00, 1.6, 0.05),
    (1.01, 2.1, -0.2), (1.02, 2.5, 0.2), (1.03, 3.2, -0.1), (1.04, 1.3, 0.1), (1.05, 1.9, -0.15),
    (1.06, 2.8, 0.05), (1.07, 3.4, -0.2), (1.08, 1.5, 0.15), (1.09, 2.2, -0.05), (1.10, 2.6, 0.1),
    (1.11, 3.1, -0.15), (1.12, 1.8, 0.2), (1.13, 2.4, -0.1), (1.14, 1.2, 0.05), (1.15, 2.0, -0.2),
    (1.16, 2.9, 0.1), (1.18, 1.6, -0.1), (1.19, 2.3, 0.15), (1.20, 1.4, -0.05), (0.96, 1.4, -0.2),
    (0.98, 1.8, 0.15), (1.00, 2.9, 0.1), (1.02, 3.5, 0.05), (1.04, 2.0, -0.25), (1.06, 2.4, 0.25),
    (1.08, 2.9, -0.1), (1.10, 1.9, 0.2), (1.12, 2.7, -0.2), (1.14, 3.3, 0.1), (1.17, 2.5, -0.15),
    (0.94, 2.6, -0.05), (0.93, 3.1, 0.15), (0.97, 3.3, -0.2), (1.05, 3.6, 0.1), (1.09, 3.5, -0.1),
    (0.90, 2.4, 0.2), (0.99, 1.1, -0.1), (1.03, 1.0, 0.1), (1.07, 1.1, -0.2), (1.11, 1.0, 0.15),
    (1.16, 1.3, 0.05), (1.21, 1.8, -0.1), (1.23, 2.1, 0.15), (1.25, 1.6, -0.05), (1.22, 1.0, 0.1),
    (0.97, 0.5, -0.15), (1.00, 0.6, -0.1), (1.03, 0.5, -0.2), (1.06, 0.45, -0.15), (1.09, 0.55, -0.2),
    (1.12, 0.5, -0.1), (1.15, 0.45, -0.25), (1.18, 0.55, -0.15), (1.21, 0.5, -0.2), (1.24, 0.6, -0.1),
    (1.27, 0.55, 0.1), (1.30, 0.65, -0.15), (1.08, 0.7, 0.1), (1.14, 0.75, 0.15), (1.02, 0.8, 0.05),
    (1.20, 0.8, -0.05),
    (0.92, 0.2, 0.1), (0.94, -0.1, -0.1), (0.96, 0.3, 0.15), (0.98, -0.4, -0.15), (1.00, -0.8, 0.1),
    (1.02, -0.3, -0.05), (1.05, -1.0, 0.2), (1.07, -0.7, -0.2), (1.10, -1.1, 0.1), (1.12, -1.5, -0.1),
    (1.15, -1.3, 0.15), (1.18, -1.6, -0.15), (1.20, -1.2, 0.05), (1.23, -1.9, -0.1), (1.25, -1.5, 0.1),
    (1.28, -2.0, -0.2), (1.31, -1.8, 0.15), (1.34, -2.2, 0.05), (1.37, -2.3, -0.1), (1.40, -2.0, 0.2),
    (1.43, -2.4, -0.15), (1.46, -2.2, 0.1), (1.49, -2.6, -0.05), (1.52, -2.8, 0.1), (1.58, -2.9, 0.2),
    (1.56, -1.8, -0.1), (1.50, -1.2, 0.1), (1.45, -0.9, -0.2), (1.40, -0.5, 0.15), (1.35, -0.3, -0.1),
    (1.30, -0.2, 0.1), (1.25, -0.6, -0.15), (1.20, -0.4, 0.2), (1.15, -0.1, -0.05), (1.48, -0.5, -0.2),
    (1.53, -0.3, 0.15), (1.58, -1.5, -0.15), (1.42, -1.7, 0.05), (1.38, -1.4, -0.1), (1.33, -1.0, 0.1),
    (0.63, 0.2, -0.1), (0.66, 0.6, 0.15), (0.70, 0.4, 0.05), (0.75, 0.2, -0.15), (0.78, 0.9, 0.1),
    (0.82, 1.4, -0.1), (0.85, 1.9, 0.15), (0.80, 2.3, -0.2), (0.78, 2.7, 0.1), (0.86, 3.1, -0.15),
    (0.88, 2.6, 0.2), (0.83, 1.0, 0.05), (0.72, 2.3, 0.2), (0.70, 1.8, -0.1), (0.88, 0.4, -0.2),
    (0.86, -0.2, 0.1),
    (0.88, 1.8, 0.3), (0.90, 1.5, -0.3), (0.95, 1.2, 0.35), (0.92, 2.8, -0.3), (0.96, 3.4, 0.3),
    (1.00, 2.4, -0.35), (1.04, 2.7, 0.3), (1.08, 3.2, -0.3), (1.12, 2.1, 0.3), (1.15, 2.6, -0.3),
    (1.18, 1.9, 0.3), (1.13, 1.5, -0.25), (1.01, 1.8, 0.25), (1.06, 1.6, -0.3), (0.98, 2.2, 0.3),
    (1.10, 0.45, -0.3), (1.16, 0.55, -0.3), (1.22, 0.55, 0.3), (1.05, 0.55, 0.3), (1.00, 0.4, -0.3),
    (1.00, -0.5, 0.3), (1.04, -0.8, -0.3), (1.08, -1.3, 0.3), (1.14, -1.0, -0.3), (1.19, -1.4, 0.25),
    (1.24, -1.7, -0.3), (1.30, -1.5, 0.3), (1.35, -1.9, -0.3), (1.41, -1.2, 0.3), (1.47, -1.6, -0.3),
    (1.52, -1.0, 0.3), (1.55, -2.0, 0.3), (1.58, -1.2, -0.25), (0.65, 0.35, 0.3), (0.70, 0.7, -0.3),
    (0.76, 0.3, 0.3), (0.80, 1.6, -0.3), (0.84, 2.1, 0.3), (0.82, 2.9, -0.3), (0.87, 2.4, -0.3),
]

# ── styling ────────────────────────────────────────────────
BLUE = "#1f77b4"
TICK_FONT = dict(family="DejaVu Sans", size=13, color="black")
TITLE_FONT = dict(family="Liberation Serif", size=21, color="black")
BWR = [[0.0, "rgb(0,0,255)"], [0.5, "rgb(255,255,255)"], [1.0, "rgb(255,0,0)"]]


def sub(txt):
    return ("<sub><span style='font-family:DejaVu Sans;font-style:italic'>"
            + txt + "</span></sub>")


DFEH = "Δ[Fe/H] (dex)"

fig = make_subplots(rows=4, cols=2, horizontal_spacing=70 / 600,
                    vertical_spacing=56 / 1054)

# (a)
edges = np.linspace(-1.0, 1.0, len(hist_counts) + 1)
step_x = [edges[0]] + list(edges[:-1]) + [edges[-1], edges[-1]]
step_y = [0] + hist_counts + [hist_counts[-1], 0]
fig.add_trace(go.Scatter(x=step_x, y=step_y, mode="lines", line_shape="hv",
                         line=dict(color=BLUE, width=1.8)), row=1, col=1)
fig.add_trace(go.Scatter(x=gauss_x, y=gauss_y, mode="lines", line_shape="spline",
                         line=dict(color="black", width=1.8)), row=1, col=1)

# (b)
bx, by = zip(*(b_pts + b_core_pts))
fig.add_trace(go.Scatter(x=bx, y=by, mode="markers",
                         marker=dict(size=4, color=BLUE)), row=1, col=2)
fig.add_trace(go.Scatter(x=one_to_one, y=one_to_one, mode="lines",
                         line=dict(color="red", width=1.6)), row=1, col=2)


def delta_panel(pts, bins, hi, mid, lo, zx, row, col):
    x, y = zip(*pts)
    fig.add_trace(go.Scatter(x=x, y=y, mode="markers",
                             marker=dict(size=4, color=BLUE)), row=row, col=col)
    fig.add_trace(go.Scatter(x=zx, y=[0, 0], mode="lines",
                             line=dict(color="black", width=2, dash="7px,3px")),
                  row=row, col=col)
    for yy in (hi, mid, lo):
        fig.add_trace(go.Scatter(x=bins, y=yy, mode="lines",
                                 line=dict(color="red", width=1.8)), row=row, col=col)


delta_panel(c_pts + c_core_pts, c_bins, c_hi, c_mid, c_lo, zero_line_x["c"], 2, 1)
delta_panel(d_pts + d_core_pts, d_bins, d_hi, d_mid, d_lo, zero_line_x["d"], 2, 2)
delta_panel(e_pts + e_core_pts, e_bins, e_hi, e_mid, e_lo, zero_line_x["e"], 3, 1)
delta_panel(f_pts + f_core_pts, f_bins, f_hi, f_mid, f_lo, zero_line_x["f"], 3, 2)
delta_panel(g_pts + g_core_pts, g_bins, g_hi, g_mid, g_lo, zero_line_x["g"], 4, 1)

# (h)
hx, hy, hc = zip(*h_pts)
fig.add_trace(go.Scatter(
    x=hx, y=hy, mode="markers",
    marker=dict(size=4.5, color=hc, colorscale=BWR, cmin=-0.5, cmax=0.5,
                colorbar=dict(
                    x=1.028, xanchor="left", xpad=0, y=0, yanchor="bottom", ypad=0,
                    len=221 / 1054, thickness=8, outlinewidth=1, outlinecolor="black",
                    ticks="inside", ticklen=8, tickwidth=1, tickcolor="black",
                    tick0=0, dtick=0.2, tickformat=".1f", tickfont=TICK_FONT))),
    row=4, col=2)

# ── axes ───────────────────────────────────────────────────
# row, col, range, tick0, dtick, minor dtick, format, title
x_cfg = [
    (1, 1, [-1.1, 1.117], -1.0, 0.5, 0.1, ".1f", DFEH),
    (1, 2, [-5, 1], -5, 1, 0.2, "d", "[Fe/H]" + sub("HR")),
    (2, 1, [0.56, 1.653], 0.75, 0.25, 0.0625, ".2f", "BP-RP"),
    (2, 2, [-4, 0.6], -4, 1, 0.2, "d", "[Fe/H]" + sub("HR")),
    (3, 1, [-4, 4.06], -4, 2.5, 0.625, ".1f", "M" + sub("G")),
    (3, 2, [-0.007, 0.1606], 0, 0.05, 0.01, ".2f", "E(B-V)"),
    (4, 1, [14.69, 21.26], 15, 1, 0.2, "d", "NUV"),
    (4, 2, [0.56, 1.653], 0.75, 0.25, 0.0625, ".2f", "BP-RP"),
]
# row, col, range, tick0, dtick, minor dtick, format, title, title offset (px left of axis)
y_cfg = [
    (1, 1, [0, 140], 0, 20, 5, "d", "Number", 46),
    (1, 2, [-5, 1], -5, 1, 0.2, "d", "[Fe/H]" + sub("GALEX"), 40),
    (2, 1, [-1, 1], -1, 0.5, 0.1, ".1f", DFEH, 52),
    (2, 2, [-1, 1], -1, 0.5, 0.1, ".1f", DFEH, 47),
    (3, 1, [-1, 1], -1, 0.5, 0.1, ".1f", DFEH, 52),
    (3, 2, [-1, 1], -1, 0.5, 0.1, ".1f", DFEH, 47),
    (4, 1, [-1, 1], -1, 0.5, 0.1, ".1f", DFEH, 53),
    (4, 2, [4, -4], -4, 1, 0.2, "d", "M" + sub("G"), 40),
]

common = dict(showline=True, linecolor="black", linewidth=1.3, mirror="ticks",
              ticks="inside", ticklen=9, tickwidth=1.2, tickcolor="black",
              showgrid=False, zeroline=False, tickfont=TICK_FONT)

for row, col, rng, t0, dt, mdt, fmt, title in x_cfg:
    fig.update_xaxes(range=rng, tick0=t0, dtick=dt, tickformat=fmt,
                     minor=dict(ticks="inside", ticklen=4.5, tickwidth=1, tickcolor="black",
                                tick0=t0, dtick=mdt),
                     row=row, col=col, **common)
    fig.add_annotation(text=title, x=0.5, y=0, xref="x domain", yref="y domain",
                       xanchor="center", yanchor="middle", yshift=-31,
                       showarrow=False, font=TITLE_FONT, row=row, col=col)

for row, col, rng, t0, dt, mdt, fmt, title, off in y_cfg:
    fig.update_yaxes(range=rng, tick0=t0, dtick=dt, tickformat=fmt,
                     minor=dict(ticks="inside", ticklen=4.5, tickwidth=1, tickcolor="black",
                                tick0=t0, dtick=mdt),
                     row=row, col=col, **common)
    fig.add_annotation(text=title, x=0, y=0.5, xref="x domain", yref="y domain",
                       xanchor="center", yanchor="middle", xshift=-off, textangle=-90,
                       showarrow=False, font=TITLE_FONT, row=row, col=col)

# ── annotations ────────────────────────────────────────────
labels = ["(a)", "(b)", "(c)", "(d)", "(e)", "(f)", "(g)", "(h)"]
for i, lab in enumerate(labels):
    fig.add_annotation(text="<b>" + lab + "</b>", x=0.99, y=0.0,
                       xref="x domain", yref="y domain", xanchor="right", yanchor="bottom",
                       showarrow=False,
                       font=dict(family="Liberation Serif", size=22, color="black"),
                       row=i // 2 + 1, col=i % 2 + 1)

fit_text = (f"<i>μ</i> = +{fit_mu:.2f} <i>dex</i><br>"
            f"<i>σ</i> = {fit_sigma:.2f} <i>dex</i>")
fig.add_annotation(text=fit_text, x=0.55, y=0.93, xref="x domain", yref="y domain",
                   xanchor="left", yanchor="top", align="left", showarrow=False,
                   font=dict(family="DejaVu Sans", size=14, color="black"),
                   row=1, col=1)

# colour bar label, reading bottom to top
fig.add_annotation(text=DFEH, x=(747 - 67) / 600, y=(1097 - 986.5) / 1054,
                   xref="paper", yref="paper", xanchor="center", yanchor="middle",
                   textangle=-90, showarrow=False, font=TITLE_FONT)

fig.update_layout(
    width=763, height=1144,
    margin=dict(l=67, r=96, t=43, b=47),
    paper_bgcolor="white", plot_bgcolor="white",
    showlegend=False,
    title=dict(text="<b>Giants</b>", x=0.5, xref="container", xanchor="center",
               y=1 - 17 / 1144, yref="container", yanchor="middle",
               font=dict(family="DejaVu Sans", size=25, color="black")),
)

# the page's default body margin would shift the 763x1144 figure by 8 px
fig.write_html("out.html", config={"displayModeBar": False},
               post_script="document.body.style.margin = '0px';")
